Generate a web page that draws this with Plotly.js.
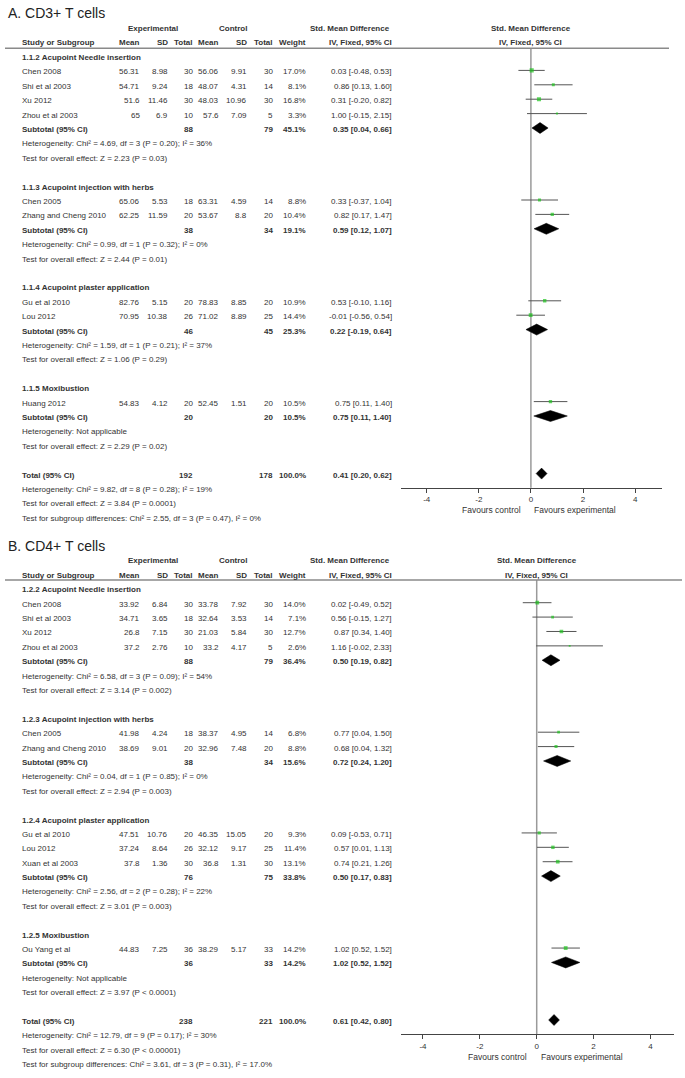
<!DOCTYPE html>
<html><head><meta charset="utf-8">
<script src="https://cdn.plot.ly/plotly-3.0.1.min.js"></script>
<style>body{margin:0;background:#fff}#chart{width:685px;height:1078px}</style>
</head><body><div id="chart"></div>
<script>
// ---------- Panel A: CD3+ T cells ----------
const groupNamesA = ['1.1.2 Acupoint Needle insertion','1.1.3 Acupoint injection with herbs','1.1.4 Acupoint plaster application','1.1.5 Moxibustion'];
const studiesA = ['Chen 2008','Shi et al 2003','Xu 2012','Zhou et al 2003','Chen 2005','Zhang and Cheng 2010','Gu et al 2010','Lou 2012','Huang 2012'];
const groupOfA = [0,0,0,0,1,1,2,2,3];
const expMeanA = [56.31,54.71,51.6,65,65.06,62.25,82.76,70.95,54.83];
const expSDA = [8.98,9.24,11.46,6.9,5.53,11.59,5.15,10.38,4.12];
const expNA = [30,18,30,10,18,20,20,26,20];
const ctlMeanA = [56.06,48.07,48.03,57.6,63.31,53.67,78.83,71.02,52.45];
const ctlSDA = [9.91,4.31,10.96,7.09,4.59,8.8,8.85,8.89,1.51];
const ctlNA = [30,14,30,5,14,20,20,25,20];
const weightA = [17.0,8.1,16.8,3.3,8.8,10.4,10.9,14.4,10.5];
const smdA = [0.03,0.86,0.31,1.00,0.33,0.82,0.53,-0.01,0.75];
const loA = [-0.48,0.13,-0.20,-0.15,-0.37,0.17,-0.10,-0.56,0.11];
const hiA = [0.53,1.60,0.82,2.15,1.04,1.47,1.16,0.54,1.40];
const subExpNA = [88,38,46,20];
const subCtlNA = [79,34,45,20];
const subWeightA = [45.1,19.1,25.3,10.5];
const subSmdA = [0.35,0.59,0.22,0.75];
const subLoA = [0.04,0.12,-0.19,0.11];
const subHiA = [0.66,1.07,0.64,1.40];
const subHetA = ['Heterogeneity: Chi² = 4.69, df = 3 (P = 0.20); I² = 36%','Heterogeneity: Chi² = 0.99, df = 1 (P = 0.32); I² = 0%','Heterogeneity: Chi² = 1.59, df = 1 (P = 0.21); I² = 37%','Heterogeneity: Not applicable'];
const subTestA = ['Test for overall effect: Z = 2.23 (P = 0.03)','Test for overall effect: Z = 2.44 (P = 0.01)','Test for overall effect: Z = 1.06 (P = 0.29)','Test for overall effect: Z = 2.29 (P = 0.02)'];
const totalA = {expN:192, ctlN:178, weight:100.0, smd:0.41, lo:0.20, hi:0.62};
const totalTextA = ['Heterogeneity: Chi² = 9.82, df = 8 (P = 0.28); I² = 19%','Test for overall effect: Z = 3.84 (P = 0.0001)','Test for subgroup differences: Chi² = 2.55, df = 3 (P = 0.47), I² = 0%'];

// ---------- Panel B: CD4+ T cells ----------
const groupNamesB = ['1.2.2 Acupoint Needle insertion','1.2.3 Acupoint injection with herbs','1.2.4 Acupoint plaster application','1.2.5 Moxibustion'];
const studiesB = ['Chen 2008','Shi et al 2003','Xu 2012','Zhou et al 2003','Chen 2005','Zhang and Cheng 2010','Gu et al 2010','Lou 2012','Xuan et al 2003','Ou Yang et al'];
const groupOfB = [0,0,0,0,1,1,2,2,2,3];
const expMeanB = [33.92,34.71,26.8,37.2,41.98,38.69,47.51,37.24,37.8,44.83];
const expSDB = [6.84,3.65,7.15,2.76,4.24,9.01,10.76,8.64,1.36,7.25];
const expNB = [30,18,30,10,18,20,20,26,30,36];
const ctlMeanB = [33.78,32.64,21.03,33.2,38.37,32.96,46.35,32.12,36.8,38.29];
const ctlSDB = [7.92,3.53,5.84,4.17,4.95,7.48,15.05,9.17,1.31,5.17];
const ctlNB = [30,14,30,5,14,20,20,25,30,33];
const weightB = [14.0,7.1,12.7,2.6,6.8,8.8,9.3,11.4,13.1,14.2];
const smdB = [0.02,0.56,0.87,1.16,0.77,0.68,0.09,0.57,0.74,1.02];
const loB = [-0.49,-0.15,0.34,-0.02,0.04,0.04,-0.53,0.01,0.21,0.52];
const hiB = [0.52,1.27,1.40,2.33,1.50,1.32,0.71,1.13,1.26,1.52];
const subExpNB = [88,38,76,36];
const subCtlNB = [79,34,75,33];
const subWeightB = [36.4,15.6,33.8,14.2];
const subSmdB = [0.50,0.72,0.50,1.02];
const subLoB = [0.19,0.24,0.17,0.52];
const subHiB = [0.82,1.20,0.83,1.52];
const subHetB = ['Heterogeneity: Chi² = 6.58, df = 3 (P = 0.09); I² = 54%','Heterogeneity: Chi² = 0.04, df = 1 (P = 0.85); I² = 0%','Heterogeneity: Chi² = 2.56, df = 2 (P = 0.28); I² = 22%','Heterogeneity: Not applicable'];
const subTestB = ['Test for overall effect: Z = 3.14 (P = 0.002)','Test for overall effect: Z = 2.94 (P = 0.003)','Test for overall effect: Z = 3.01 (P = 0.003)','Test for overall effect: Z = 3.97 (P < 0.0001)'];
const totalB = {expN:238, ctlN:221, weight:100.0, smd:0.61, lo:0.42, hi:0.80};
const totalTextB = ['Heterogeneity: Chi² = 12.79, df = 9 (P = 0.17); I² = 30%','Test for overall effect: Z = 6.30 (P < 0.00001)','Test for subgroup differences: Chi² = 3.61, df = 3 (P = 0.31), I² = 17.0%'];

const tickVals = [-4,-2,0,2,4];
const tickLabels = ['-4','-2','0','2','4'];
const headerTop = ['Experimental','Control','Std. Mean Difference'];
const headerCols = ['Study or Subgroup','Mean','SD','Total','Mean','SD','Total','Weight','IV, Fixed, 95% CI'];

// ---------- layout helpers ----------
const W = 685, H = 1078;
const FONT = 'Liberation Sans, Arial, sans-serif';
const TXT = '#333';
const px = x => x / W;
const py = y => 1 - y / H;
const colRight = [140, 167.5, 193, 219.5, 246.5, 272.5, 306, 391.5];
const nameX = 21.7;

const panels = [
  {title:'A. CD3+ T cells', titleY:12.5, h1:28, h2:43, lineY:48.3, lineEnd:669, base:56, step:14.4, axisY:487.7,
   xr:[-5,5.02], xd:[400.67,661.67], favY:510, favC:521, favE:534, ax:'', 
   groups:groupNamesA, studies:studiesA, gof:groupOfA, em:expMeanA, es:expSDA, en:expNA, cm:ctlMeanA, cs:ctlSDA, cn:ctlNA,
   w:weightA, smd:smdA, lo:loA, hi:hiA, sen:subExpNA, scn:subCtlNA, sw:subWeightA, ssmd:subSmdA, slo:subLoA, shi:subHiA,
   shet:subHetA, stest:subTestA, tot:totalA, totTxt:totalTextA},
  {title:'B. CD4+ T cells', titleY:546, h1:560.7, h2:575, lineY:580, lineEnd:682, base:588.3, step:14.39, axisY:1034.3,
   xr:[-4.785,4.83], xd:[400.67,674], favY:1057, favC:526.7, favE:540.7, ax:'2',
   groups:groupNamesB, studies:studiesB, gof:groupOfB, em:expMeanB, es:expSDB, en:expNB, cm:ctlMeanB, cs:ctlSDB, cn:ctlNB,
   w:weightB, smd:smdB, lo:loB, hi:hiB, sen:subExpNB, scn:subCtlNB, sw:subWeightB, ssmd:subSmdB, slo:subLoB, shi:subHiB,
   shet:subHetB, stest:subTestB, tot:totalB, totTxt:totalTextB}
];

const traces = [], annotations = [], shapes = [];
const layout = {width:W, height:H, margin:{l:0,r:0,t:0,b:0}, paper_bgcolor:'#fff', plot_bgcolor:'rgba(0,0,0,0)',
  showlegend:false, font:{family:FONT, size:8, color:TXT}, annotations, shapes};

function ann(text, x, y, anchor, bold, size, color) {
  annotations.push({text: bold ? '<b>'+text+'</b>' : text, x:px(x), y:py(y), xref:'paper', yref:'paper',
    xanchor:anchor, yanchor:'middle', showarrow:false, borderpad:0, borderwidth:0,
    font:{family:FONT, size:size||8, color:color||TXT}});
}
const f2 = v => v.toFixed(2);
const ciStr = (s,l,h) => f2(s)+' ['+f2(l)+', '+f2(h)+']';

panels.forEach(P => {
  const rowY = r => P.base + P.step * r + 1.5;   // text centre for row r
  // titles & headers
  ann(P.title, 7.5, P.titleY, 'left', false, 14, '#222');
  ann(headerTop[0], 152.5, P.h1, 'center', true);
  ann(headerTop[1], 233.3, P.h1, 'center', true);
  ann(headerTop[2], 389.5, P.h1, 'right', true);
  ann(headerTop[2], (P.xd[0] + (0 - P.xr[0]) / (P.xr[1]-P.xr[0]) * (P.xd[1]-P.xd[0])), P.h1, 'center', true);
  ann(headerCols[0], nameX, P.h2, 'left', true);
  for (let i = 1; i < headerCols.length; i++) ann(headerCols[i], colRight[i-1], P.h2, 'right', true);
  ann(headerCols[8], (P.xd[0] + (0 - P.xr[0]) / (P.xr[1]-P.xr[0]) * (P.xd[1]-P.xd[0])), P.h2, 'center', true);
  shapes.push({type:'line', xref:'paper', yref:'paper', x0:px(5), x1:px(P.lineEnd), y0:py(P.lineY), y1:py(P.lineY),
    line:{color:'#8a8a8a', width:1.5}});

  // rows
  let r = 0;
  const stRows = [], subRows = [];
  P.groups.forEach((g, gi) => {
    ann(g, nameX, rowY(r), 'left', true); r++;
    P.studies.forEach((s, i) => {
      if (P.gof[i] !== gi) return;
      const y = rowY(r);
      ann(s, nameX, y, 'left');
      const vals = [String(P.em[i]), String(P.es[i]), String(P.en[i]), String(P.cm[i]), String(P.cs[i]), String(P.cn[i]),
        P.w[i].toFixed(1)+'%', ciStr(P.smd[i], P.lo[i], P.hi[i])];
      vals.forEach((v, k) => ann(v, colRight[k], y, 'right'));
      stRows[i] = r; r++;
    });
    const y = rowY(r);
    ann('Subtotal (95% CI)', nameX, y, 'left', true);
    ann(String(P.sen[gi]), colRight[2], y, 'right', true);
    ann(String(P.scn[gi]), colRight[5], y, 'right', true);
    ann(P.sw[gi].toFixed(1)+'%', colRight[6], y, 'right', true);
    ann(ciStr(P.ssmd[gi], P.slo[gi], P.shi[gi]), colRight[7], y, 'right', true);
    subRows[gi] = r; r++;
    ann(P.shet[gi], nameX, rowY(r), 'left'); r++;
    ann(P.stest[gi], nameX, rowY(r), 'left'); r++;
    r++; // blank
  });
  const totRow = r;
  let y = rowY(r);
  ann('Total (95% CI)', nameX, y, 'left', true);
  ann(String(P.tot.expN), colRight[2], y, 'right', true);
  ann(String(P.tot.ctlN), colRight[5], y, 'right', true);
  ann(P.tot.weight.toFixed(1)+'%', colRight[6], y, 'right', true);
  ann(ciStr(P.tot.smd, P.tot.lo, P.tot.hi), colRight[7], y, 'right', true);
  P.totTxt.forEach((t, k) => ann(t, nameX, rowY(r+1+k), 'left'));

  // forest axes
  const xa = 'xaxis' + P.ax, ya = 'yaxis' + P.ax;
  const xRef = 'x' + P.ax, yRef = 'y' + P.ax;
  layout[xa] = {domain:[px(P.xd[0]), px(P.xd[1])], range:P.xr, anchor:yRef, showgrid:false, zeroline:false,
    showline:true, linecolor:'#444', linewidth:1, ticks:'outside', ticklen:4, tickcolor:'#444', tickwidth:1,
    tickvals:tickVals, ticktext:tickLabels, tickfont:{family:FONT, size:8, color:TXT}, fixedrange:true};
  layout[ya] = {domain:[py(P.axisY), py(P.lineY)], range:[(P.axisY-P.base)/P.step, (P.lineY-P.base)/P.step],
    anchor:xRef, visible:false, fixedrange:true};
  shapes.push({type:'line', xref:xRef, yref:yRef+' domain', x0:0, x1:0, y0:0, y1:1, line:{color:'#9a9a9a', width:1.5}, layer:'below'});
  ann('Favours control', P.favC, P.favY, 'right', false, 8.5);
  ann('Favours experimental', P.favE, P.favY, 'left', false, 8.5);

  // study squares with CIs
  traces.push({type:'scatter', mode:'markers', xaxis:xRef, yaxis:yRef, hoverinfo:'skip',
    x:P.smd, y:stRows,
    error_x:{type:'data', symmetric:false, array:P.hi.map((h,i)=>h-P.smd[i]), arrayminus:P.lo.map((l,i)=>P.smd[i]-l),
      width:0, thickness:1, color:'#555'},
    marker:{symbol:'square', color:'#1ec31e', size:P.w.map(w=>0.9*Math.sqrt(w)+0.4), line:{width:0}}});
  // diamonds
  const dh = 5.5 / P.step;
  const dx = [], dy = [];
  const addD = (s, l, h, row) => { dx.push(l, s, h, s, l, null); dy.push(row, row-dh, row, row+dh, row, null); };
  P.ssmd.forEach((s, gi) => addD(s, P.slo[gi], P.shi[gi], subRows[gi]));
  addD(P.tot.smd, P.tot.lo, P.tot.hi, totRow);
  traces.push({type:'scatter', mode:'lines', xaxis:xRef, yaxis:yRef, hoverinfo:'skip', x:dx, y:dy,
    fill:'toself', fillcolor:'#000', line:{color:'#000', width:0.5}});
});

Plotly.newPlot('chart', traces, layout, {staticPlot:true, displayModeBar:false});
</script></body></html>
